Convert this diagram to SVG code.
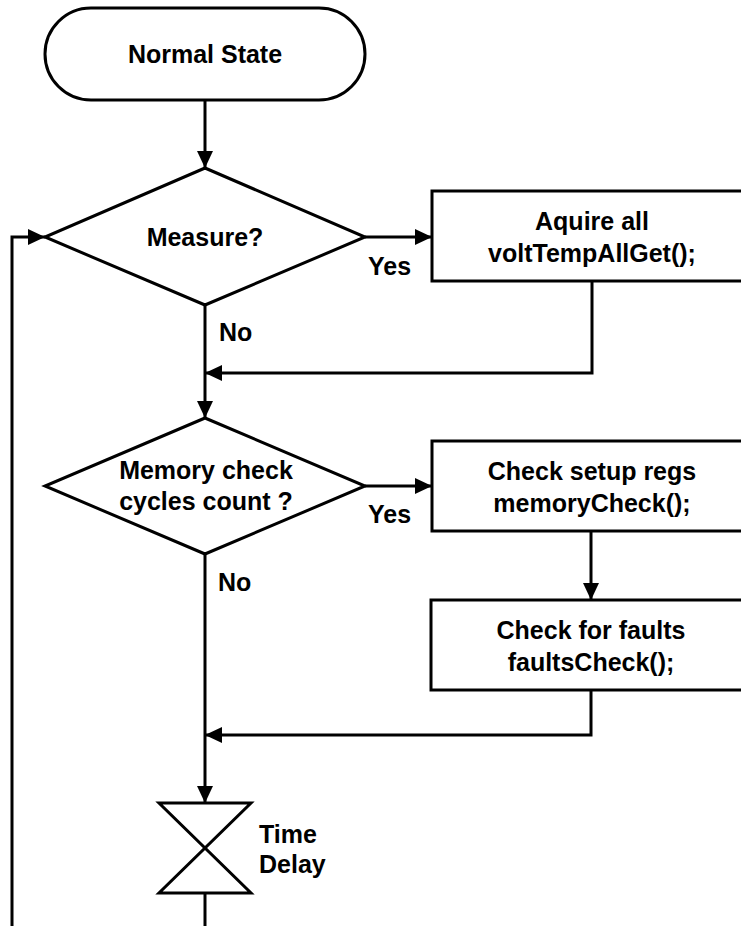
<svg xmlns="http://www.w3.org/2000/svg" width="741" height="926" viewBox="0 0 741 926">
<style>
.s{fill:#fff;stroke:#000;stroke-width:3;stroke-linejoin:miter}
.c{fill:none;stroke:#000;stroke-width:3}
text{font-family:"Liberation Sans",Arial,sans-serif;font-weight:bold;font-size:25px;fill:#000}
.m{text-anchor:middle}
</style>
<defs>
<marker id="ah" markerUnits="userSpaceOnUse" markerWidth="17" markerHeight="16" refX="17" refY="8" orient="auto">
<path d="M0,0 L17,8 L0,16 z" fill="#000"/>
</marker>
</defs>
<rect width="741" height="926" fill="#fff"/>
<g id="connectors">
<line class="c" x1="205" y1="100" x2="205" y2="168" marker-end="url(#ah)"/>
<line class="c" x1="365" y1="237" x2="432" y2="237" marker-end="url(#ah)"/>
<polyline class="c" points="592,281 592,373 205,373" marker-end="url(#ah)"/>
<line class="c" x1="205" y1="305" x2="205" y2="418" marker-end="url(#ah)"/>
<line class="c" x1="365" y1="486" x2="432" y2="486" marker-end="url(#ah)"/>
<line class="c" x1="591" y1="531" x2="591" y2="600" marker-end="url(#ah)"/>
<polyline class="c" points="591,690 591,735 205,735" marker-end="url(#ah)"/>
<line class="c" x1="205" y1="554" x2="205" y2="803" marker-end="url(#ah)"/>
<line class="c" x1="205" y1="893" x2="205" y2="926"/>
<polyline class="c" points="12,926 12,237 45,237" marker-end="url(#ah)"/>
</g>
<g id="n-start">
<rect class="s" x="45" y="8" width="320" height="92" rx="46" ry="46"/>
<text class="m" x="205" y="63">Normal State</text>
</g>
<g id="n-measure">
<polygon class="s" points="205,168 365,237 205,305 45,237"/>
<text class="m" x="205" y="246">Measure?</text>
</g>
<g id="l-yes1"><text x="368" y="275">Yes</text></g>
<g id="l-no1"><text x="219" y="341">No</text></g>
<g id="n-acquire">
<rect class="s" x="432" y="191" width="320" height="90"/>
<text class="m" x="592" y="230">Aquire all</text>
<text class="m" x="592" y="262">voltTempAllGet();</text>
</g>
<g id="n-memcheck">
<polygon class="s" points="205,418 365,486 205,554 45,486"/>
<text class="m" x="206" y="479">Memory check</text>
<text class="m" x="206" y="510">cycles count ?</text>
</g>
<g id="l-yes2"><text x="368" y="523">Yes</text></g>
<g id="l-no2"><text x="218" y="591">No</text></g>
<g id="n-setup">
<rect class="s" x="432" y="441" width="320" height="90"/>
<text class="m" x="592" y="480">Check setup regs</text>
<text class="m" x="592" y="512">memoryCheck();</text>
</g>
<g id="n-faults">
<rect class="s" x="431" y="600" width="320" height="90"/>
<text class="m" x="591" y="639">Check for faults</text>
<text class="m" x="591" y="671">faultsCheck();</text>
</g>
<g id="n-delay">
<polygon class="s" points="159,803 251,803 159,893 251,893"/>
<text x="259" y="843">Time</text>
<text x="259" y="873">Delay</text>
</g>
</svg>
